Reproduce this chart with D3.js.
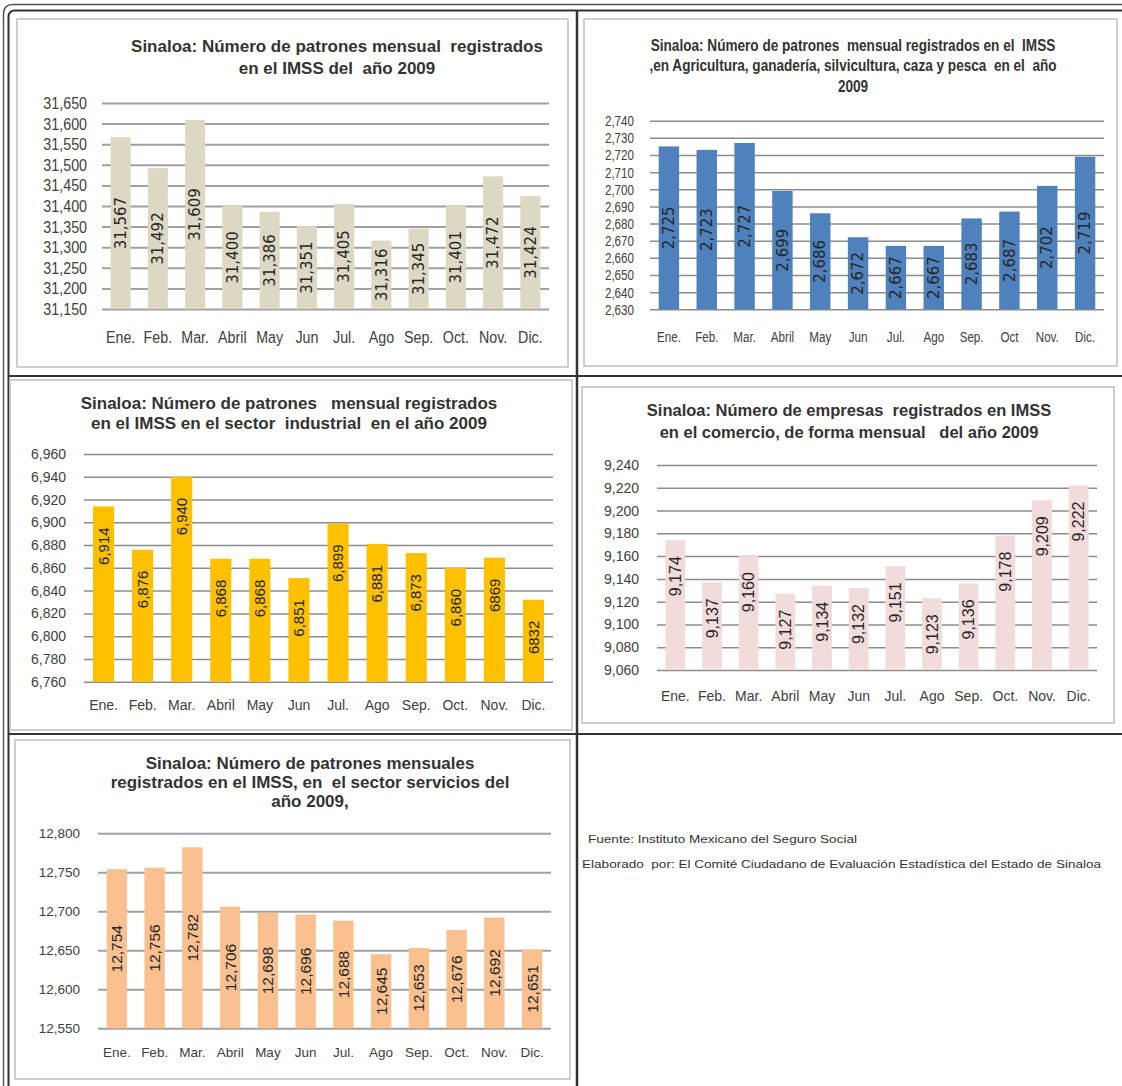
<!DOCTYPE html>
<html>
<head>
<meta charset="utf-8">
<script src="https://cdn.jsdelivr.net/npm/d3@7"></script>
<style>
  body { margin: 0; background: #fff; }
  text { white-space: pre; }
</style>
</head>
<body>
<svg id="page" width="1122" height="1086"></svg>
<script>
// ---- data ----
const MONTHS = ["Ene.", "Feb.", "Mar.", "Abril", "May", "Jun", "Jul.", "Ago", "Sep.", "Oct.", "Nov.", "Dic."];
const MONTHS_AGRI = ["Ene.", "Feb.", "Mar.", "Abril", "May", "Jun", "Jul.", "Ago", "Sep.", "Oct", "Nov.", "Dic."];

const TOTAL = [31567, 31492, 31609, 31400, 31386, 31351, 31405, 31316, 31345, 31401, 31472, 31424];
const AGRI = [2725, 2723, 2727, 2699, 2686, 2672, 2667, 2667, 2683, 2687, 2702, 2719];
const INDUSTRIAL = [6914, 6876, 6940, 6868, 6868, 6851, 6899, 6881, 6873, 6860, 6869, 6832];
const COMERCIO = [9174, 9137, 9160, 9127, 9134, 9132, 9151, 9123, 9136, 9178, 9209, 9222];
const SERVICIOS = [12754, 12756, 12782, 12706, 12698, 12696, 12688, 12645, 12653, 12676, 12692, 12651];

// the picture prints two of the industrial labels without a thousands comma
const LABELS_INDUSTRIAL = ["6,914", "6,876", "6,940", "6,868", "6,868", "6,851", "6,899", "6,881", "6,873", "6,860", "6869", "6832"];

const TITLE_TOTAL = ["Sinaloa: Número de patrones mensual  registrados", "en el IMSS del  año 2009"];
const TITLE_AGRI = ["Sinaloa: Número de patrones  mensual registrados en el  IMSS",
  ",en Agricultura, ganadería, silvicultura, caza y pesca  en el  año", "2009"];
const TITLE_INDUSTRIAL = ["Sinaloa: Número de patrones   mensual registrados", "en el IMSS en el sector  industrial  en el año 2009"];
const TITLE_COMERCIO = ["Sinaloa: Número de empresas  registrados en IMSS", "en el comercio, de forma mensual   del año 2009"];
const TITLE_SERVICIOS = ["Sinaloa: Número de patrones mensuales", "registrados en el IMSS, en  el sector servicios del", "año 2009,"];

const Y_DOMAIN_TOTAL = [31150, 31650], Y_STEP_TOTAL = 50;
const Y_DOMAIN_AGRI = [2630, 2740], Y_STEP_AGRI = 10;
const Y_DOMAIN_INDUSTRIAL = [6760, 6960], Y_STEP_INDUSTRIAL = 20;
const Y_DOMAIN_COMERCIO = [9060, 9240], Y_STEP_COMERCIO = 20;
const Y_DOMAIN_SERVICIOS = [12550, 12800], Y_STEP_SERVICIOS = 50;

const SOURCE_NOTES = ["Fuente: Instituto Mexicano del Seguro Social",
  "Elaborado  por: El Comité Ciudadano de Evaluación Estadística del Estado de Sinaloa"];

// ---- layout ----
const ARIAL = "'Liberation Sans', Arial, sans-serif";
const VERDANA = "'DejaVu Sans', Verdana, sans-serif";
const FMT = d3.format(",");
const SVG = d3.select("#page");

const PANELS = [
  {
    months: MONTHS, values: TOTAL, labels: TOTAL.map(FMT), title: TITLE_TOTAL,
    domain: Y_DOMAIN_TOTAL, step: Y_STEP_TOTAL, color: "#ddd8c4",
    frame: [17, 19, 568, 367], plot: { left: 102, right: 549, top: 103, bottom: 309 },
    titleX: 337, titleY: [46, 68], titleSize: 17, titleSx: 1,
    axisSize: 17, axisSx: 0.84, xLabelY: 337, yLabelX: 87,
    valueFont: VERDANA, valueSize: 15, valuePos: "center", grid: "#a0a0a0", gridW: 2,
  },
  {
    months: MONTHS_AGRI, values: AGRI, labels: AGRI.map(FMT), title: TITLE_AGRI,
    domain: Y_DOMAIN_AGRI, step: Y_STEP_AGRI, color: "#4f81bd",
    frame: [584, 19, 1117, 366], plot: { left: 650, right: 1104, top: 120.7, bottom: 309.3 },
    titleX: 853, titleY: [45, 65.5, 86], titleSize: 16, titleSx: 0.85,
    axisSize: 15.5, axisSx: 0.75, xLabelY: 337, yLabelX: 634,
    valueFont: VERDANA, valueSize: 15, valuePos: "center", grid: "#8c8c8c", gridW: 1.5,
  },
  {
    months: MONTHS, values: INDUSTRIAL, labels: LABELS_INDUSTRIAL, title: TITLE_INDUSTRIAL,
    domain: Y_DOMAIN_INDUSTRIAL, step: Y_STEP_INDUSTRIAL, color: "#ffc000",
    frame: [10, 380, 572, 730], plot: { left: 84, right: 553, top: 454, bottom: 681.7 },
    titleX: 289, titleY: [403, 423], titleSize: 17, titleSx: 1,
    axisSize: 14, axisSx: 1, xLabelY: 705, yLabelX: 66,
    valueFont: ARIAL, valueSize: 15, valuePos: "top", offset: 21, grid: "#8c8c8c", gridW: 1.5,
  },
  {
    months: MONTHS, values: COMERCIO, labels: COMERCIO.map(FMT), title: TITLE_COMERCIO,
    domain: Y_DOMAIN_COMERCIO, step: Y_STEP_COMERCIO, color: "#f2dcdb",
    frame: [582, 387, 1114, 723], plot: { left: 657, right: 1097, top: 465, bottom: 670 },
    titleX: 849, titleY: [410.7, 432.3], titleSize: 16.5, titleSx: 1,
    axisSize: 14, axisSx: 1, xLabelY: 695.7, yLabelX: 639,
    valueFont: ARIAL, valueSize: 16, valuePos: "top", offset: 16, grid: "#8c8c8c", gridW: 1.5,
  },
  {
    months: MONTHS, values: SERVICIOS, labels: SERVICIOS.map(FMT), title: TITLE_SERVICIOS,
    domain: Y_DOMAIN_SERVICIOS, step: Y_STEP_SERVICIOS, color: "#fac090",
    frame: [15, 740, 570, 1079], plot: { left: 98, right: 551, top: 833.3, bottom: 1028.3 },
    titleX: 310, titleY: [763, 782.3, 801], titleSize: 17, titleSx: 1,
    axisSize: 13.5, axisSx: 1, xLabelY: 1052.7, yLabelX: 80,
    valueFont: ARIAL, valueSize: 15.5, valuePos: "center", grid: "#a0a0a0", gridW: 2,
  },
];

// ---- page borders (table cells) ----
SVG.append("path")
  .attr("d", "M3.5,1086 L3.5,14 Q3.5,4.5 13,4.5 L1122,4.5")
  .attr("fill", "none").attr("stroke", "#555").attr("stroke-width", 1.5);
SVG.append("path")
  .attr("d", "M8.5,1086 L8.5,17 Q8.5,10.5 15,10.5 L1122,10.5")
  .attr("fill", "none").attr("stroke", "#333").attr("stroke-width", 2);
SVG.append("line").attr("x1", 577).attr("x2", 577).attr("y1", 10).attr("y2", 1086)
  .attr("stroke", "#333").attr("stroke-width", 2.5);
[376, 734].forEach((y) => {
  SVG.append("line").attr("x1", 8).attr("x2", 1122).attr("y1", y).attr("y2", y)
    .attr("stroke", "#333").attr("stroke-width", 2);
});

// ---- one bar chart per panel ----
PANELS.forEach((p) => {
  const g = SVG.append("g");
  const [fx0, fy0, fx1, fy1] = p.frame;

  g.append("rect")
    .attr("x", fx0).attr("y", fy0)
    .attr("width", fx1 - fx0).attr("height", fy1 - fy0)
    .attr("fill", "#fff").attr("stroke", "#bfbfbf").attr("stroke-width", 1.5);

  const X_SCALE = d3.scaleBand()
    .domain(p.months)
    .range([p.plot.left, p.plot.right])
    .paddingInner(0.46)
    .paddingOuter(0.23);

  const Y_SCALE = d3.scaleLinear()
    .domain(p.domain)
    .range([p.plot.bottom, p.plot.top]);

  const ticks = d3.range(p.domain[0], p.domain[1] + p.step / 2, p.step);
  const pad = p.plot.left - p.yLabelX;

  // y axis + gridlines
  const yAxis = g.append("g")
    .attr("transform", `translate(${p.plot.left},0)`)
    .call(d3.axisLeft(Y_SCALE).tickValues(ticks).tickFormat(FMT)
      .tickSize(-(p.plot.right - p.plot.left)).tickPadding(pad));
  yAxis.select(".domain").remove();
  yAxis.selectAll(".tick line").attr("stroke", p.grid).attr("stroke-width", p.gridW);
  yAxis.selectAll(".tick text")
    .attr("x", -pad / p.axisSx)
    .attr("transform", `scale(${p.axisSx},1)`)
    .attr("fill", "#404040")
    .style("font-family", ARIAL)
    .style("font-size", p.axisSize + "px");

  // bars
  g.selectAll(".bar")
    .data(p.values)
    .enter()
    .append("rect")
    .attr("class", "bar")
    .attr("x", (d, i) => X_SCALE(p.months[i]))
    .attr("y", (d) => Y_SCALE(d))
    .attr("width", X_SCALE.bandwidth())
    .attr("height", (d) => p.plot.bottom - Y_SCALE(d))
    .attr("fill", p.color);

  // x axis labels
  const xAxis = g.append("g")
    .attr("transform", `translate(0,${p.xLabelY})`)
    .call(d3.axisBottom(X_SCALE).tickSize(0).tickPadding(0));
  xAxis.select(".domain").remove();
  xAxis.selectAll(".tick text")
    .attr("y", 0).attr("dy", "0.35em")
    .attr("transform", `scale(${p.axisSx},1)`)
    .attr("fill", "#404040")
    .style("font-family", ARIAL)
    .style("font-size", p.axisSize + "px");

  // value labels, rotated
  g.selectAll(".value")
    .data(p.values)
    .enter()
    .append("text")
    .attr("class", "value")
    .each(function (d, i) {
      const cx = X_SCALE(p.months[i]) + X_SCALE.bandwidth() / 2;
      const top = Y_SCALE(d);
      const cy = p.valuePos === "center" ? (top + p.plot.bottom) / 2 : top + p.offset;
      d3.select(this)
        .attr("x", cx).attr("y", cy)
        .attr("dy", "0.35em")
        .attr("text-anchor", p.valuePos === "center" ? "middle" : "end")
        .attr("transform", `rotate(-90,${cx},${cy})`)
        .text(p.labels[i]);
    })
    .attr("fill", "#262626")
    .style("font-family", p.valueFont)
    .style("font-size", p.valueSize + "px");

  // title
  p.title.forEach((line, i) => {
    g.append("text")
      .attr("transform", `translate(${p.titleX},${p.titleY[i]}) scale(${p.titleSx},1)`)
      .attr("dy", "0.35em")
      .attr("text-anchor", "middle")
      .attr("fill", "#333")
      .style("font-family", ARIAL)
      .style("font-weight", "bold")
      .style("font-size", p.titleSize + "px")
      .text(line);
  });
});

// ---- source notes ----
SVG.selectAll(".note")
  .data(SOURCE_NOTES)
  .enter()
  .append("text")
  .attr("class", "note")
  .attr("transform", (d, i) => `translate(${i === 0 ? 588 : 582},${839 + i * 25}) scale(1.18,1)`)
  .attr("dy", "0.35em")
  .attr("fill", "#333")
  .style("font-family", ARIAL)
  .style("font-size", "11.5px")
  .text((d) => d);
</script>
</body>
</html>
